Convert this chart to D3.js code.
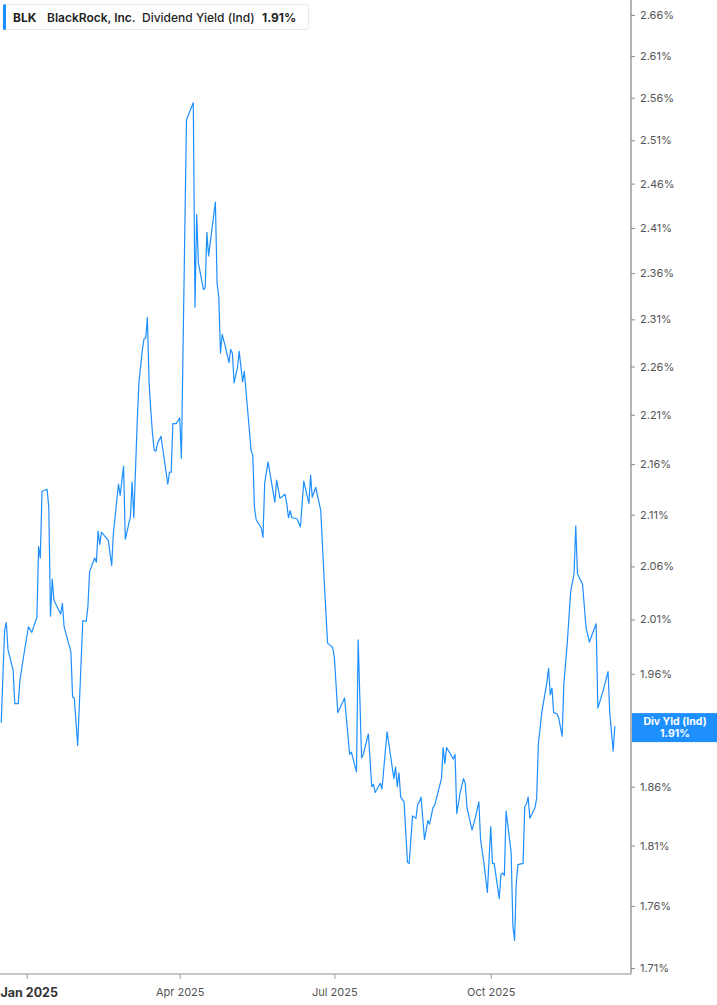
<!DOCTYPE html>
<html><head><meta charset="utf-8">
<script src="https://cdn.jsdelivr.net/npm/d3@7"></script>
<style>
html,body{margin:0;padding:0;background:#fff;}
svg{display:block;font-family:Inter,"Noto Sans",sans-serif;}
</style></head>
<body><svg id="c" width="717" height="1005"></svg>
<script>
const dates = ["2024-12-17","2024-12-19","2024-12-20","2024-12-21","2024-12-24","2024-12-25","2024-12-27","2024-12-28","2024-12-31",
"2025-01-02","2025-01-04","2025-01-07","2025-01-08","2025-01-09","2025-01-10","2025-01-13","2025-01-14","2025-01-15","2025-01-16","2025-01-17",
"2025-01-21","2025-01-22","2025-01-23","2025-01-27","2025-01-28","2025-01-29","2025-01-31",
"2025-02-03","2025-02-05","2025-02-06","2025-02-07","2025-02-10","2025-02-11","2025-02-12","2025-02-13","2025-02-14","2025-02-18","2025-02-20",
"2025-02-21","2025-02-24","2025-02-25","2025-02-27","2025-02-28",
"2025-03-03","2025-03-04","2025-03-05","2025-03-07","2025-03-08","2025-03-10","2025-03-11","2025-03-12","2025-03-13","2025-03-14","2025-03-15",
"2025-03-16","2025-03-17","2025-03-18","2025-03-19","2025-03-21","2025-03-22","2025-03-23","2025-03-25","2025-03-26","2025-03-27","2025-03-28",
"2025-03-30","2025-04-01","2025-04-02",
"2025-04-05","2025-04-09","2025-04-10","2025-04-11","2025-04-12","2025-04-15","2025-04-16","2025-04-17","2025-04-18","2025-04-22","2025-04-23",
"2025-04-24","2025-04-25","2025-04-26","2025-04-28","2025-04-30","2025-05-01","2025-05-02",
"2025-05-03","2025-05-05","2025-05-06","2025-05-08","2025-05-09","2025-05-13","2025-05-14","2025-05-15","2025-05-16","2025-05-19","2025-05-20",
"2025-05-21","2025-05-23","2025-05-27","2025-05-28","2025-05-30","2025-06-02",
"2025-06-03","2025-06-04","2025-06-05","2025-06-06","2025-06-09","2025-06-11","2025-06-13","2025-06-16","2025-06-17","2025-06-18","2025-06-20",
"2025-06-23","2025-06-25","2025-06-27","2025-06-30","2025-07-01",
"2025-07-03","2025-07-07","2025-07-10","2025-07-11","2025-07-14","2025-07-15","2025-07-17","2025-07-18","2025-07-21","2025-07-23","2025-07-24",
"2025-07-25","2025-07-28","2025-07-29","2025-08-01",
"2025-08-05","2025-08-06","2025-08-07","2025-08-08","2025-08-09","2025-08-11","2025-08-13","2025-08-14","2025-08-16","2025-08-18","2025-08-19",
"2025-08-20","2025-08-21","2025-08-23","2025-08-25","2025-08-26","2025-08-28","2025-08-29","2025-09-02","2025-09-03",
"2025-09-04","2025-09-05","2025-09-09","2025-09-10","2025-09-11","2025-09-13","2025-09-15","2025-09-16","2025-09-17","2025-09-20","2025-09-22",
"2025-09-24","2025-09-25","2025-09-27","2025-09-29","2025-10-01","2025-10-02","2025-10-03",
"2025-10-06","2025-10-07","2025-10-08","2025-10-09","2025-10-10","2025-10-13","2025-10-14","2025-10-15","2025-10-16","2025-10-17","2025-10-20",
"2025-10-21","2025-10-22","2025-10-23","2025-10-24","2025-10-27","2025-10-28","2025-10-29","2025-10-31",
"2025-11-03","2025-11-04","2025-11-05","2025-11-06","2025-11-07","2025-11-09","2025-11-10","2025-11-12","2025-11-13","2025-11-15","2025-11-17",
"2025-11-19","2025-11-20","2025-11-21","2025-11-24","2025-11-26","2025-11-28",
"2025-12-02","2025-12-03","2025-12-06","2025-12-09","2025-12-10","2025-12-12","2025-12-13"];

const yieldValues = [1.916,2.000,2.007,1.982,1.963,1.933,1.933,1.954,1.984,
2.003,1.998,2.012,2.079,2.068,2.133,2.135,2.117,2.013,2.048,2.028,
2.015,2.025,2.003,1.980,1.939,1.938,1.896,2.009,2.008,2.022,2.055,
2.068,2.064,2.094,2.081,2.093,2.085,2.061,2.092,2.140,2.129,2.158,
2.086,2.108,2.142,2.107,2.202,2.243,2.277,2.289,2.290,2.312,2.243,
2.215,2.191,2.174,2.173,2.181,2.188,2.176,2.164,2.140,2.152,2.152,
2.201,2.201,2.207,2.166,2.534,2.554,2.323,2.425,2.371,2.342,2.344,
2.405,2.379,2.439,2.349,2.334,2.274,2.294,2.280,2.264,2.278,2.274,
2.243,2.259,2.276,2.244,2.255,2.174,2.169,2.117,2.105,2.097,2.088,
2.141,2.162,2.122,2.144,2.126,2.130,2.121,2.107,2.114,2.107,2.106,
2.098,2.143,2.121,2.149,2.127,2.137,2.114,2.047,1.988,1.984,1.975,
1.925,1.938,1.888,1.890,1.873,1.991,1.885,1.888,1.906,1.860,1.862,
1.855,1.863,1.858,1.908,1.867,1.877,1.860,1.872,1.851,1.847,1.796,
1.795,1.835,1.833,1.845,1.847,1.851,1.815,1.831,1.828,1.842,1.844,
1.867,1.894,1.880,1.894,1.884,1.888,1.837,1.855,1.867,1.863,1.842,
1.823,1.834,1.847,1.815,1.795,1.771,1.826,1.795,1.795,1.766,1.786,
1.787,1.785,1.839,1.804,1.744,1.732,1.779,1.794,1.795,1.843,1.845,
1.851,1.833,1.842,1.850,1.897,1.925,1.952,1.965,1.941,1.947,1.925,
1.924,1.920,1.904,1.951,1.988,2.036,2.053,2.099,2.053,2.043,2.003,
1.989,2.006,1.929,1.944,1.962,1.925,1.891,1.913];

const yTickValues = [1.71,1.76,1.81,1.86,1.91,1.96,2.01,2.06,2.11,2.16,2.21,2.26,2.31,2.36,2.41,2.46,2.51,2.56,2.61,2.66];
const xTickDates = ["2025-01-01","2025-04-01","2025-07-01","2025-10-01"];
const xTickLabels = ["Jan 2025","Apr 2025","Jul 2025","Oct 2025"];
const legendItems = ["BLK","BlackRock, Inc.","Dividend Yield (Ind)","1.91%"];
const lastLabel = ["Div Yld (Ind)","1.91%"];

const parse = d3.utcParse("%Y-%m-%d");
const data = dates.map((d,i)=>({date:parse(d), v:yieldValues[i]}));

const W = 631, H = 974;
const svg = d3.select("#c");
const blue = "#1e8fff";
const FONT = "Inter,'Noto Sans',sans-serif";

const x = d3.scaleUtc()
  .domain([new Date(Date.UTC(2024,11,16,7)), new Date(Date.UTC(2025,11,22,12))])
  .range([0, W]);
const y = d3.scaleLog().domain([1.7053, 2.6786]).range([H, 0]);

// line
const line = d3.line().x(d=>x(d.date)).y(d=>y(d.v));
svg.append("path").datum(data)
  .attr("fill","none").attr("stroke",blue).attr("stroke-width",1.2)
  .attr("stroke-linejoin","round").attr("d",line);

// right axis
const ya = svg.append("g").attr("transform",`translate(${W},0)`)
  .call(d3.axisRight(y).tickValues(yTickValues).tickSize(4).tickPadding(5)
    .tickFormat(d=>d.toFixed(2)+"%"));
ya.select(".domain").attr("stroke","#9a9a9a").attr("stroke-width",1.5)
  .attr("d",`M0,0V${H}`);
ya.selectAll(".tick line").attr("stroke","#8a8a8a");
ya.selectAll(".tick text").attr("fill","#555").attr("font-size",11).attr("font-family",FONT);

// bottom axis
const xa = svg.append("g").attr("transform",`translate(0,${H})`)
  .call(d3.axisBottom(x).tickValues(xTickDates.map(parse)).tickSize(5).tickPadding(9)
    .tickFormat((d,i)=>xTickLabels[i]));
xa.select(".domain").attr("stroke","#b5b5b5").attr("stroke-width",1.5)
  .attr("d",`M0,0H${W}`);
xa.selectAll(".tick line").attr("stroke","#9a9a9a");
xa.selectAll(".tick text").attr("fill","#555").attr("font-size",11).attr("font-family",FONT);
xa.selectAll(".tick text").filter((d,i)=>i===0)
  .attr("font-weight","bold").attr("font-size",12.5).attr("fill","#333")
  .attr("text-anchor","start").attr("x",-x(parse(xTickDates[0])));

// legend
const lg = svg.append("g");
lg.append("rect").attr("x",3.5).attr("y",4.5).attr("width",305).attr("height",25)
  .attr("rx",3).attr("fill","#fff").attr("stroke","#e8e8e8");
lg.append("rect").attr("x",3).attr("y",4).attr("width",3).attr("height",26).attr("rx",1.5).attr("fill",blue);
const lx = [13,47,142,262];
const lw = [700,600,500,700];
legendItems.forEach((t,i)=>{
  lg.append("text").attr("x",lx[i]).attr("y",21.5).text(t)
    .attr("font-size",12).attr("font-weight",lw[i]).attr("fill","#1f1f1f")
    .attr("font-family",FONT);
});

// last value badge
const lastV = yieldValues[yieldValues.length-1];
const by = y(lastV);
const badge = svg.append("g");
badge.append("rect").attr("x",W+1).attr("y",by-13).attr("width",717-W-1).attr("height",29).attr("fill",blue);
lastLabel.forEach((t,i)=>{
  badge.append("text").attr("x",(W+717)/2+1).attr("y",by-1+i*12).attr("text-anchor","middle")
    .attr("fill","#fff").attr("font-size",10.5).attr("font-weight",700).text(t)
    .attr("font-family",FONT);
});
</script></body></html>
